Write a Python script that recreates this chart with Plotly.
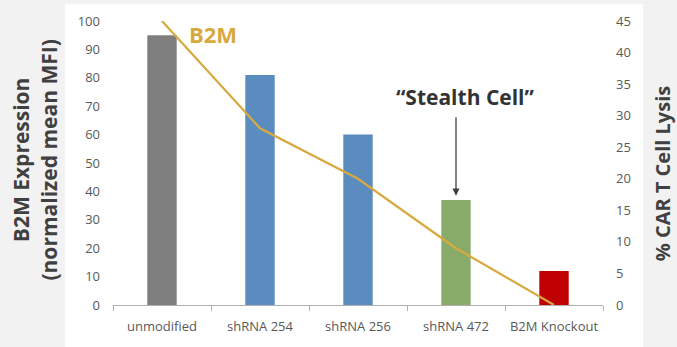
import plotly.graph_objects as go

# Cell lines and measurements
categories = ["unmodified", "shRNA 254", "shRNA 256", "shRNA 472", "B2M Knockout"]
b2m_expression = [95, 81, 60, 37, 12]          # normalized mean MFI (left axis)
car_t_lysis = [45, 28, 20, 9, 0]               # % CAR T cell lysis (right axis)
bar_colors = ["#7f7f7f", "#5b8cbf", "#5b8cbf", "#89ab69", "#c00000"]
left_ticks = list(range(0, 101, 10))
right_ticks = list(range(0, 46, 5))

W, H = 677, 347
L, R, T, B = 113, 74, 19, 39
pw, ph = W - L - R, H - T - B

def px_x(p):
    return (p - L) / pw

def px_y(p):
    return (H - B - p) / ph

tick_font = dict(family="Open Sans", size=13, color="#595959")
title_font = dict(family="Open Sans", size=21, color="#404040")

fig = go.Figure()
fig.add_trace(go.Bar(
    x=categories, y=b2m_expression, marker=dict(color=bar_colors, line=dict(width=0)),
    showlegend=False, hoverinfo="skip",
))
fig.add_trace(go.Scatter(
    x=categories, y=car_t_lysis, yaxis="y2", mode="lines",
    line=dict(color="#d8a93e", width=2.2), showlegend=False, hoverinfo="skip",
))

fig.update_layout(
    width=W, height=H,
    margin=dict(l=L, r=R, t=T, b=B),
    paper_bgcolor="#f2f2f2", plot_bgcolor="white",
    bargap=0.7,
    xaxis=dict(
        type="category", range=[-0.5, 4.5], showgrid=False, zeroline=False,
        showline=True, linecolor="#b0b0b0", linewidth=1,
        ticks="outside", tickson="boundaries", ticklen=5, tickcolor="#b0b0b0",
        tickfont=tick_font, ticklabelstandoff=9,
    ),
    yaxis=dict(
        range=[0, 100], tickvals=left_ticks, showgrid=False, zeroline=False,
        showline=False, ticks="", tickfont=tick_font, ticklabelstandoff=12,
    ),
    yaxis2=dict(
        range=[0, 45], tickvals=right_ticks, overlaying="y", side="right",
        showgrid=False, zeroline=False, showline=False, ticks="",
        tickfont=tick_font, ticklabelstandoff=12,
    ),
    shapes=[dict(
        type="rect", xref="paper", yref="paper", layer="below",
        x0=px_x(65), x1=px_x(643), y0=px_y(H + 5), y1=px_y(2),
        fillcolor="white", line=dict(width=0),
    )],
)

fig.add_annotation(
    text="<b>B2M Expression<br>(normalized mean MFI)</b>", textangle=-90,
    xref="paper", yref="paper", x=px_x(35), y=px_y(161),
    xanchor="center", yanchor="middle",
    showarrow=False, font=title_font, align="center",
)
fig.add_annotation(
    text="<b>% CAR T Cell Lysis</b>", textangle=-90,
    xref="paper", yref="paper", x=px_x(662), y=px_y(174),
    xanchor="center", yanchor="middle",
    showarrow=False, font=dict(family="Open Sans", size=20, color="#404040"),
)
fig.add_annotation(
    text="<b>B2M</b>", xref="paper", yref="paper", x=px_x(213), y=px_y(32),
    xanchor="center", yanchor="middle",
    showarrow=False, font=dict(family="Open Sans", size=22, color="#d8a93e"),
)
fig.add_annotation(
    text="<b>\u201cStealth Cell\u201d</b>", xref="paper", yref="paper",
    x=px_x(465), y=px_y(96), xanchor="center", yanchor="middle", showarrow=False,
    font=dict(family="Open Sans", size=21, color="#333333"),
)
fig.add_annotation(
    text="", x="shRNA 472", y=b2m_expression[3] + 1.5, xref="x", yref="y",
    showarrow=True, arrowhead=2, arrowsize=1.1, arrowwidth=1.3,
    arrowcolor="#404040", ax=0, ay=-80,
)

fig.write_html("out.html")
